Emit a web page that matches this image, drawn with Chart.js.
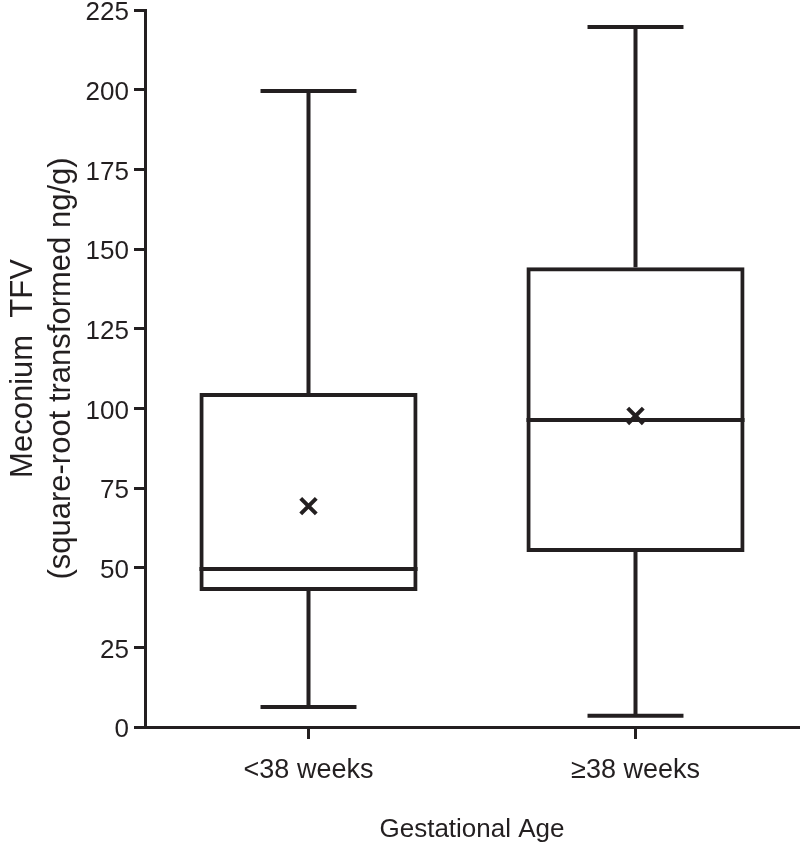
<!DOCTYPE html>
<html>
<head>
<meta charset="utf-8">
<script src="https://cdn.jsdelivr.net/npm/chart.js@4"></script>
<style>
  html, body { margin: 0; padding: 0; background: #fff; overflow: hidden; }
  #wrap { width: 800px; height: 845px; position: relative; }
</style>
</head>
<body>
<div id="wrap"><canvas id="boxChart"></canvas></div>
<script>
const categories = ['<38 weeks', '\u226538 weeks'];
const whiskerMin = [6.3, 3.5];
const q1 = [42.7, 54.9];
const median = [49.6, 96.3];
const q3 = [104.8, 144.3];
const whiskerMax = [199.6, 219.7];
const means = [69.3, 97.6];

const ink = '#231f20';
const fontFamily = '"Liberation Sans", Arial, sans-serif';

// whiskers, caps and median lines, drawn with the chart's own scales
const whiskerPlugin = {
    id: 'whiskerPlugin',
    afterDatasetsDraw(chart) {
        const ctx = chart.ctx;
        const xScale = chart.scales.x;
        const yScale = chart.scales.y;
        const bars = chart.getDatasetMeta(0).data;
        ctx.save();
        ctx.strokeStyle = ink;
        ctx.lineWidth = 4;
        ctx.lineCap = 'butt';
        categories.forEach((c, i) => {
            const x = xScale.getPixelForValue(i);
            const half = bars[i].width / 2;
            const cap = bars[i].width * 0.22;
            const yMin = yScale.getPixelForValue(whiskerMin[i]);
            const yQ1 = yScale.getPixelForValue(q1[i]);
            const yMed = yScale.getPixelForValue(median[i]);
            const yQ3 = yScale.getPixelForValue(q3[i]);
            const yMax = yScale.getPixelForValue(whiskerMax[i]);
            ctx.beginPath();
            ctx.moveTo(x, yQ3); ctx.lineTo(x, yMax);
            ctx.moveTo(x - cap, yMax); ctx.lineTo(x + cap, yMax);
            ctx.moveTo(x, yQ1); ctx.lineTo(x, yMin);
            ctx.moveTo(x - cap, yMin); ctx.lineTo(x + cap, yMin);
            ctx.moveTo(x - half, yMed); ctx.lineTo(x + half, yMed);
            ctx.stroke();
        });
        ctx.restore();
    },
};

new Chart(document.getElementById('boxChart').getContext('2d'), {
    type: 'bar',
    data: {
        labels: categories,
        datasets: [
            {
                label: 'IQR',
                data: q1.map((v, i) => [v, q3[i]]),
                backgroundColor: 'rgba(0,0,0,0)',
                borderColor: ink,
                borderWidth: 4,
                borderSkipped: false,
                categoryPercentage: 1,
                barPercentage: 0.667,
            },
            {
                type: 'line',
                label: 'Mean',
                data: means,
                showLine: false,
                pointStyle: 'crossRot',
                pointRadius: 11,
                pointBorderWidth: 4,
                borderColor: ink,
                backgroundColor: ink,
            },
        ],
    },
    options: {
        responsive: true,
        maintainAspectRatio: false,
        animation: false,
        layout: { autoPadding: false, padding: { top: 0, right: 1, bottom: 0, left: 0 } },
        plugins: {
            legend: { display: false },
            tooltip: { enabled: false },
        },
        scales: {
            x: {
                grid: {
                    offset: false,
                    drawOnChartArea: false,
                    drawTicks: true,
                    tickLength: 12,
                    color: ink,
                    lineWidth: 3,
                },
                border: { color: ink, width: 3 },
                ticks: {
                    color: ink,
                    padding: 15,
                    font: { family: fontFamily, size: 27 },
                },
                title: {
                    display: true,
                    text: 'Gestational Age',
                    color: ink,
                    padding: { top: 0, bottom: 0 },
                    font: { family: fontFamily, size: 26 },
                },
                afterFit(scale) {
                    scale.height = 118;
                    scale.paddingRight = 0;
                    scale.paddingLeft = 0;
                },
            },
            y: {
                min: 0,
                max: 225,
                grid: {
                    drawOnChartArea: false,
                    drawTicks: true,
                    tickLength: 11,
                    color: ink,
                    lineWidth: 3,
                },
                border: { color: ink, width: 3 },
                ticks: {
                    stepSize: 25,
                    color: ink,
                    padding: 5,
                    labelOffset: 3,
                    font: { family: fontFamily, size: 26 },
                },
                title: {
                    display: true,
                    text: ['Meconium  TFV', '(square-root transformed ng/g)'],
                    color: ink,
                    padding: { top: 4, bottom: 0 },
                    font: { family: fontFamily, size: 31, lineHeight: 1.23 },
                },
                afterFit(scale) {
                    scale.width = 145;
                    scale.paddingTop = 10;
                    scale.paddingBottom = 0;
                },
            },
        },
    },
    plugins: [whiskerPlugin],
});
</script>
</body>
</html>
